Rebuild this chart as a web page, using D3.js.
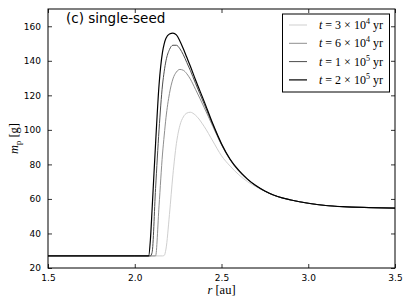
<!DOCTYPE html>
<html>
<head>
<meta charset="utf-8">
<script src="https://cdn.jsdelivr.net/npm/d3@7"></script>
<style>
  body { margin: 0; background: #fff; }
  svg text { fill: #000; }
</style>
</head>
<body>
<div id="chart"></div>
<script>
// radius grid [au] and planet mass [g] for each snapshot
const rGrid = [1.5, 2.0, 2.08, 2.09, 2.1, 2.12, 2.14, 2.16, 2.17, 2.18, 2.2, 2.22, 2.24, 2.26, 2.28, 2.3, 2.32, 2.35, 2.4, 2.45, 2.5, 2.55, 2.6, 2.65, 2.7, 2.75, 2.8, 2.85, 2.9, 3.0, 3.1, 3.2, 3.35, 3.5];
const m3e4 = [27, 27, 27, 27, 27, 27, 27, 27, 27.3, 31, 51, 74, 92, 102.5, 107.5, 109.7, 110.2, 108.5, 102, 93.5, 85, 79, 74, 70, 67, 64.3, 62.1, 60.5, 59.4, 57.5, 56.2, 55.5, 55, 54.7];
const m6e4 = [27, 27, 27, 27, 27, 27, 56, 86, 97, 107, 121, 129.5, 133.5, 135, 134.5, 132.5, 129.5, 123.5, 113, 102, 91.3, 82.5, 76, 71.2, 67.4, 64.5, 62.2, 60.6, 59.4, 57.5, 56.2, 55.5, 55, 54.7];
const m1e5 = [27, 27, 27, 27, 29, 66, 100, 126, 134, 140, 146.5, 149, 149, 147, 143.5, 139, 134.5, 127, 115, 103, 91.7, 82.8, 76.3, 71.4, 67.5, 64.5, 62.2, 60.6, 59.4, 57.5, 56.2, 55.5, 55, 54.7];
const m2e5 = [27, 27, 27, 36, 54, 92, 126, 145, 150, 153, 155.5, 156, 155, 151.5, 147, 142, 137, 129, 116.5, 103.5, 92, 83, 76.5, 71.5, 67.6, 64.6, 62.3, 60.6, 59.4, 57.5, 56.2, 55.5, 55, 54.7];

const seriesMant = ["3", "6", "1", "2"];
const seriesExp = ["4", "4", "5", "5"];
const seriesColors = ["#cfcfcf", "#8f8f8f", "#4d4d4d", "#000000"];

const xTicks = [1.5, 2.0, 2.5, 3.0, 3.5];
const yTicks = [20, 40, 60, 80, 100, 120, 140, 160];

const W = 411, H = 308;
const margin = { left: 48, right: 16, top: 9, bottom: 40 };

const svg = d3.select("#chart").append("svg")
  .attr("width", W).attr("height", H);

const x = d3.scaleLinear().domain([1.5, 3.5]).range([margin.left, W - margin.right]);
const y = d3.scaleLinear().domain([20, 170]).range([H - margin.bottom, margin.top]);

const allSeries = [m3e4, m6e4, m1e5, m2e5];

const line = d3.line()
  .x((d) => x(d[0]))
  .y((d) => y(d[1]))
  .curve(d3.curveMonotoneX);

svg.append("clipPath").attr("id", "clip")
  .append("rect")
  .attr("x", margin.left).attr("y", margin.top)
  .attr("width", x(3.5) - x(1.5)).attr("height", y(20) - y(170));

svg.append("g").attr("clip-path", "url(#clip)")
  .selectAll("path")
  .data(allSeries)
  .enter()
  .append("path")
  .attr("d", (vals) => line(rGrid.map((r, i) => [r, vals[i]])))
  .attr("fill", "none")
  .attr("stroke", (d, i) => seriesColors[i])
  .attr("stroke-width", (d, i) => i === 3 ? 1.2 : 1);

// axes, ticks pointing inward (matplotlib classic)
const tickFont = "DejaVu Sans, sans-serif";
const axBottom = svg.append("g").attr("transform", `translate(0,${y(20)})`)
  .call(d3.axisBottom(x).tickValues(xTicks).tickSize(-4).tickPadding(7).tickFormat(d3.format(".1f")));
const axTop = svg.append("g").attr("transform", `translate(0,${y(170)})`)
  .call(d3.axisTop(x).tickValues(xTicks).tickSize(-4).tickFormat(""));
const axLeft = svg.append("g").attr("transform", `translate(${x(1.5)},0)`)
  .call(d3.axisLeft(y).tickValues(yTicks).tickSize(-4).tickPadding(7));
const axRight = svg.append("g").attr("transform", `translate(${x(3.5)},0)`)
  .call(d3.axisRight(y).tickValues(yTicks).tickSize(-4).tickFormat(""));

[axBottom, axTop, axLeft, axRight].forEach((g) => {
  g.select(".domain").remove();
  g.selectAll(".tick line").attr("stroke", "#000").attr("stroke-width", 0.8);
  g.selectAll("text").attr("font-family", tickFont).attr("font-size", 9).attr("fill", "#000");
});

svg.append("rect")
  .attr("x", x(1.5)).attr("y", y(170))
  .attr("width", x(3.5) - x(1.5)).attr("height", y(20) - y(170))
  .attr("fill", "none").attr("stroke", "#000").attr("stroke-width", 1);

// panel title
svg.append("text")
  .attr("x", 66).attr("y", 23)
  .attr("font-family", "DejaVu Sans, sans-serif")
  .attr("font-size", 13.5)
  .text("(c) single-seed");

// axis labels
const serif = "Liberation Serif, serif";
const xl = svg.append("text")
  .attr("x", (x(1.5) + x(3.5)) / 2).attr("y", 294)
  .attr("text-anchor", "middle")
  .attr("font-family", serif).attr("font-size", 12.5);
xl.append("tspan").attr("font-style", "italic").text("r");
xl.append("tspan").text(" [au]");

const yl = svg.append("text")
  .attr("transform", `translate(18,${(y(20) + y(170)) / 2}) rotate(-90)`)
  .attr("text-anchor", "middle")
  .attr("font-family", serif).attr("font-size", 12.5);
yl.append("tspan").attr("font-style", "italic").text("m");
yl.append("tspan").attr("font-size", 8.5).attr("dy", 3).text("p");
yl.append("tspan").attr("dy", -3).text(" [g]");

// legend
const legend = svg.append("g");
legend.append("rect")
  .attr("x", 282.5).attr("y", 14)
  .attr("width", 107).attr("height", 78)
  .attr("fill", "#fff").attr("stroke", "#000").attr("stroke-width", 1);

seriesColors.forEach((c, i) => {
  const ly = 25 + i * 18.3;
  legend.append("line")
    .attr("x1", 289).attr("x2", 307)
    .attr("y1", ly).attr("y2", ly)
    .attr("stroke", c).attr("stroke-width", i === 3 ? 1.2 : 1);
  const t = legend.append("text")
    .attr("x", 319).attr("y", ly + 4)
    .attr("font-family", serif).attr("font-size", 12);
  t.append("tspan").attr("font-style", "italic").text("t");
  t.append("tspan").text(` = ${seriesMant[i]} × 10`);
  t.append("tspan").attr("font-size", 8).attr("dy", -5).text(seriesExp[i]);
  t.append("tspan").attr("dy", 5).text(" yr");
});
</script>
</body>
</html>
